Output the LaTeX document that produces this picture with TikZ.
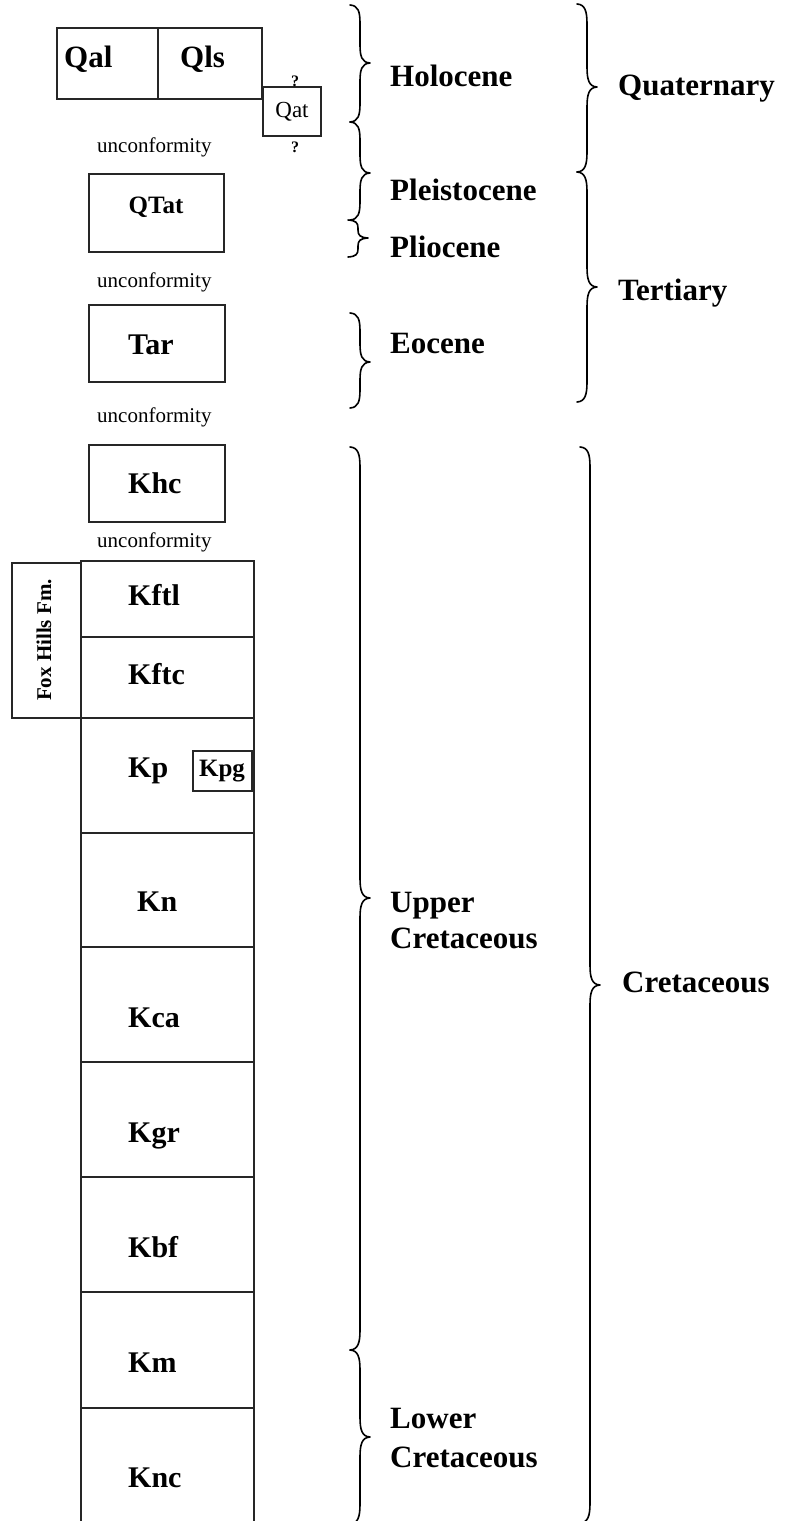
\documentclass[tikz,border=0pt]{standalone}
\usepackage{fontspec}
\setmainfont{Liberation Serif}
\tikzset{
  box/.style={draw=black!85, line width=1.8pt},
  lbl/.style={inner sep=0pt, anchor=base west, font=\bfseries\fontsize{30}{30}\selectfont},
  big/.style={inner sep=0pt, anchor=base west, font=\bfseries\fontsize{31}{36}\selectfont, align=left},
  unc/.style={inner sep=0pt, anchor=base west, font=\fontsize{21}{21}\selectfont},
  qm/.style={inner sep=0pt, anchor=base, font=\bfseries\fontsize{16}{16}\selectfont},
  brc/.style={draw=black, line width=1.6pt, line join=round, line cap=round}
}
\newcommand{\geobrace}[6]{% spine x, top, mid, bottom, half width, curl length
  \draw[brc] (#1-#5,#2) .. controls (#1-2,#2+0.5) and (#1,#2+0.35*#6) .. (#1,#2+#6)
    -- (#1,#3-#6) .. controls (#1,#3-0.35*#6) and (#1+2,#3-0.5) .. (#1+#5,#3)
    .. controls (#1+2,#3+0.5) and (#1,#3+0.35*#6) .. (#1,#3+#6)
    -- (#1,#4-#6) .. controls (#1,#4-0.35*#6) and (#1-2,#4-0.5) .. (#1-#5,#4);}
\begin{document}
\begin{tikzpicture}[x=1pt,y=-1pt]
\useasboundingbox (0,0) rectangle (785,1521);
% top boxes
\draw[box] (57,28) rectangle (158,99);
\draw[box] (158,28) rectangle (262,99);
\draw[box] (263,87) rectangle (321,136);
\node[lbl, font=\bfseries\fontsize{31}{31}\selectfont] (qal) at (64,67) {Qal};
\node[lbl, font=\bfseries\fontsize{31}{31}\selectfont] (qls) at (180,67) {Qls};
\node[inner sep=0pt, font=\fontsize{23}{23}\selectfont] (qat) at (292,112) {Qat};
\node[qm] (q1) at (295,86) {?};
\node[qm] (q2) at (295,152) {?};
\node[unc] (u1) at (97,152) {unconformity};
\draw[box] (89,174) rectangle (224,252);
\node[inner sep=0pt, anchor=base, font=\bfseries\fontsize{25}{25}\selectfont] (qtat) at (156,213) {QTat};
\node[unc] (u2) at (97,287) {unconformity};
\draw[box] (89,305) rectangle (225,382);
\node[lbl] (tar) at (128,354) {Tar};
\node[unc] (u3) at (97,422) {unconformity};
\draw[box] (89,445) rectangle (225,522);
\node[lbl] (khc) at (128,493) {Khc};
\node[unc] (u4) at (97,547) {unconformity};
% Fox Hills
\draw[box] (12,563) rectangle (81,718);
\node[inner sep=0pt, rotate=90, font=\bfseries\fontsize{21}{21}\selectfont] (fh) at (44,640) {Fox Hills Fm.};
% column
\draw[box] (81,561) rectangle (254,637);
\draw[box] (81,637) rectangle (254,718);
\draw[box] (81,718) rectangle (254,833);
\draw[box] (81,833) rectangle (254,947);
\draw[box] (81,947) rectangle (254,1062);
\draw[box] (81,1062) rectangle (254,1177);
\draw[box] (81,1177) rectangle (254,1292);
\draw[box] (81,1292) rectangle (254,1408);
\draw[box] (81,1521) -- (81,1408) -- (254,1408) -- (254,1521);
\node[lbl] (kftl) at (128,605) {Kftl};
\node[lbl] (kftc) at (128,684) {Kftc};
\node[lbl] (kp) at (128,777) {Kp};
\draw[box] (193,751) rectangle (252,791);
\node[inner sep=0pt, font=\bfseries\fontsize{25}{25}\selectfont] (kpg) at (222,771) {Kpg};
\node[lbl] (kn) at (137,911) {Kn};
\node[lbl] (kca) at (128,1027) {Kca};
\node[lbl] (kgr) at (128,1142) {Kgr};
\node[lbl] (kbf) at (128,1257) {Kbf};
\node[lbl] (km) at (128,1372) {Km};
\node[lbl] (knc) at (128,1487) {Knc};
% inner braces
\geobrace{360}{5}{63}{122}{10}{18}
\geobrace{360}{122}{173}{220}{10}{18}
\geobrace{358}{220}{238}{257}{10}{8}
\geobrace{360}{313}{362}{408}{10}{18}
\geobrace{360}{447}{898}{1350}{10}{20}
\geobrace{360}{1350}{1437}{1524}{10}{20}
% outer braces
\geobrace{587}{4}{87}{172}{10}{20}
\geobrace{587}{172}{287}{402}{10}{20}
\geobrace{590}{447}{985}{1523}{10}{20}
% labels
\node[big] (holo) at (390,86) {Holocene};
\node[big] (plei) at (390,200) {Pleistocene};
\node[big] (plio) at (390,257) {Pliocene};
\node[big] (eoc) at (390,353) {Eocene};
\node[big] (upc1) at (390,912) {Upper};
\node[big] (upc2) at (390,948) {Cretaceous};
\node[big] (loc1) at (390,1428) {Lower};
\node[big] (loc2) at (390,1467) {Cretaceous};
\node[big] (quat) at (618,95) {Quaternary};
\node[big] (tert) at (618,300) {Tertiary};
\node[big] (cret) at (622,992) {Cretaceous};
\end{tikzpicture}
\end{document}
